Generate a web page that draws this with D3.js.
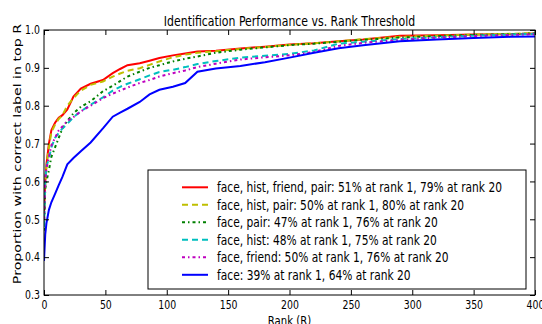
<!DOCTYPE html>
<html>
<head>
<meta charset="utf-8">
<script src="https://cdn.jsdelivr.net/npm/d3@7"></script>
<style>
body { margin: 0; background: #fff; }
text { font-family: "DejaVu Sans", sans-serif; fill: #000; }
</style>
</head>
<body>
<script>
// rank positions
var ranks = [0, 1, 2, 4, 6, 9, 12, 15, 19, 24, 30, 38, 48, 56, 62, 68, 78, 86, 94, 105, 115, 125, 140, 160, 180, 200, 220, 240, 260, 290, 320, 350, 380, 400];

var faceHistFriendPair = [0.51, 0.60, 0.645, 0.70, 0.735, 0.755, 0.768, 0.775, 0.79, 0.824, 0.845, 0.858, 0.868, 0.886, 0.897, 0.907, 0.912, 0.919, 0.926, 0.933, 0.938, 0.943, 0.945, 0.951, 0.956, 0.962, 0.965, 0.970, 0.975, 0.985, 0.986, 0.988, 0.989, 0.991];
var faceHistPair = [0.50, 0.59, 0.64, 0.69, 0.73, 0.75, 0.765, 0.775, 0.80, 0.82, 0.84, 0.855, 0.864, 0.877, 0.885, 0.892, 0.899, 0.908, 0.917, 0.928, 0.935, 0.940, 0.944, 0.950, 0.955, 0.961, 0.965, 0.970, 0.976, 0.982, 0.985, 0.988, 0.990, 0.992];
var facePair = [0.47, 0.58, 0.60, 0.63, 0.665, 0.69, 0.715, 0.74, 0.76, 0.78, 0.797, 0.812, 0.838, 0.853, 0.865, 0.877, 0.890, 0.900, 0.907, 0.917, 0.924, 0.930, 0.940, 0.948, 0.954, 0.960, 0.964, 0.969, 0.974, 0.980, 0.984, 0.987, 0.989, 0.991];
var faceHist = [0.48, 0.60, 0.64, 0.66, 0.69, 0.715, 0.728, 0.74, 0.752, 0.77, 0.785, 0.803, 0.822, 0.840, 0.850, 0.858, 0.870, 0.880, 0.889, 0.895, 0.902, 0.910, 0.918, 0.927, 0.932, 0.937, 0.946, 0.964, 0.969, 0.976, 0.981, 0.985, 0.988, 0.990];
var faceFriend = [0.50, 0.60, 0.635, 0.665, 0.695, 0.715, 0.735, 0.745, 0.76, 0.77, 0.785, 0.800, 0.820, 0.832, 0.840, 0.848, 0.860, 0.868, 0.877, 0.886, 0.893, 0.902, 0.911, 0.922, 0.928, 0.933, 0.942, 0.958, 0.966, 0.974, 0.980, 0.984, 0.987, 0.989];
var faceOnly = [0.39, 0.46, 0.49, 0.525, 0.545, 0.567, 0.59, 0.612, 0.645, 0.662, 0.68, 0.703, 0.740, 0.771, 0.782, 0.792, 0.810, 0.830, 0.842, 0.850, 0.860, 0.890, 0.898, 0.905, 0.915, 0.927, 0.940, 0.952, 0.960, 0.970, 0.975, 0.979, 0.982, 0.983];

var seriesLabels = [
  "face, hist, friend, pair: 51% at rank 1, 79% at rank 20",
  "face, hist, pair: 50% at rank 1, 80% at rank 20",
  "face, pair: 47% at rank 1, 76% at rank 20",
  "face, hist: 48% at rank 1, 75% at rank 20",
  "face, friend: 50% at rank 1, 76% at rank 20",
  "face: 39% at rank 1, 64% at rank 20"
];
var seriesValues = [faceHistFriendPair, faceHistPair, facePair, faceHist, faceFriend, faceOnly];
var colors = ["#ff0000", "#bfbf00", "#008000", "#00bfbf", "#bf00bf", "#0000ff"];
var dashes = [null, "6,4", "3,3,1.5,3", "6,4", "3,3,1.5,3", null];

var xTicks = [0, 50, 100, 150, 200, 250, 300, 350, 400];
var yTicks = [0.3, 0.4, 0.5, 0.6, 0.7, 0.8, 0.9, 1.0];

var W = 542, H = 324;
var padL = 44, padR = 535, padT = 30, padB = 295;
var squeeze = 0.78;

var svg = d3.select("body").append("svg")
  .attr("width", W)
  .attr("height", H);

var x = d3.scaleLinear().domain([0, 400]).range([padL, padR]);
var y = d3.scaleLinear().domain([0.3, 1.0]).range([padB, padT]);

svg.append("clipPath").attr("id", "plot")
  .append("rect")
  .attr("x", padL).attr("y", padT)
  .attr("width", padR - padL).attr("height", padB - padT);

// curves
var line = d3.line()
  .x(function(d, i) { return x(ranks[i]) })
  .y(function(d) { return y(d) });

svg.append("g").attr("clip-path", "url(#plot)")
  .selectAll("path")
  .data(seriesValues)
  .enter()
  .append("path")
  .attr("d", line)
  .attr("fill", "none")
  .attr("stroke", function(d, i) { return colors[i] })
  .attr("stroke-width", 2)
  .attr("stroke-dasharray", function(d, i) { return dashes[i] });

// axes, ticks inward on all sides
var bottomAxis = svg.append("g")
  .attr("transform", "translate(0," + padB + ")")
  .call(d3.axisBottom(x).tickValues(xTicks).tickSizeInner(-5).tickSizeOuter(0).tickPadding(5));
var leftAxis = svg.append("g")
  .attr("transform", "translate(" + padL + ",0)")
  .call(d3.axisLeft(y).tickValues(yTicks).tickFormat(d3.format(".1f")).tickSizeInner(-5).tickSizeOuter(0).tickPadding(4));
svg.append("g")
  .attr("transform", "translate(0," + padT + ")")
  .call(d3.axisTop(x).tickValues(xTicks).tickFormat("").tickSizeInner(-5).tickSizeOuter(0));
svg.append("g")
  .attr("transform", "translate(" + padR + ",0)")
  .call(d3.axisRight(y).tickValues(yTicks).tickFormat("").tickSizeInner(-5).tickSizeOuter(0));

svg.selectAll(".domain").remove();
svg.selectAll(".tick line").attr("stroke", "#000");
svg.selectAll(".tick text").attr("font-size", 12).attr("font-family", "DejaVu Sans");

bottomAxis.selectAll(".tick text").attr("transform", "scale(" + squeeze + ",1)");
leftAxis.selectAll(".tick text")
  .attr("x", -4 / squeeze)
  .attr("transform", "scale(" + squeeze + ",1)");

svg.append("rect")
  .attr("x", padL).attr("y", padT)
  .attr("width", padR - padL).attr("height", padB - padT)
  .attr("fill", "none").attr("stroke", "#000").attr("stroke-width", 1);

// titles
svg.append("text")
  .attr("transform", "translate(" + ((padL + padR) / 2) + ",26) scale(" + squeeze + ",1)")
  .attr("text-anchor", "middle")
  .attr("font-size", 14)
  .text("Identification Performance vs. Rank Threshold");

svg.append("text")
  .attr("transform", "translate(" + ((padL + padR) / 2) + ",325) scale(" + squeeze + ",1)")
  .attr("text-anchor", "middle")
  .attr("font-size", 13)
  .text("Rank (R)");

svg.append("text")
  .attr("transform", "translate(21,154) rotate(-90) scale(1," + squeeze + ")")
  .attr("text-anchor", "middle")
  .attr("font-size", 14.2)
  .text("Proportion with correct label in top R");

// legend
var legend = svg.append("g");
legend.append("rect")
  .attr("x", 148).attr("y", 170)
  .attr("width", 378).attr("height", 119)
  .attr("fill", "#fff").attr("stroke", "#000").attr("stroke-width", 1);

var rows = legend.selectAll("g.row")
  .data(seriesLabels)
  .enter()
  .append("g")
  .attr("class", "row")
  .attr("transform", function(d, i) { return "translate(0," + (187.3 + i * 17.5) + ")" });

rows.append("line")
  .attr("x1", 182).attr("x2", 208)
  .attr("stroke", function(d, i) { return colors[i] })
  .attr("stroke-width", 2)
  .attr("stroke-dasharray", function(d, i) { return dashes[i] });

rows.append("text")
  .attr("transform", "translate(217,5) scale(0.79,1)")
  .attr("font-size", 13.5)
  .text(function(d) { return d });
</script>
</body>
</html>
